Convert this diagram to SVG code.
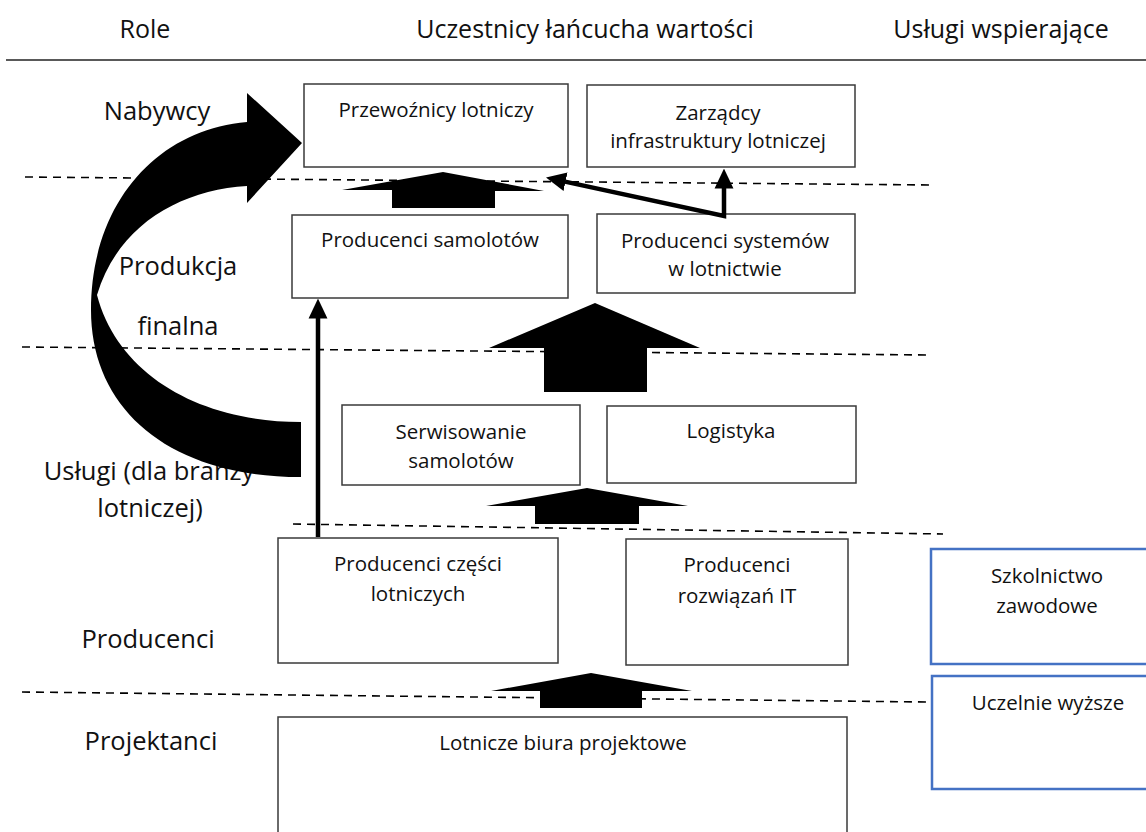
<svg xmlns="http://www.w3.org/2000/svg" width="1146" height="832" viewBox="0 0 1146 832">
<style>
text{font-family:"Open Sans","Noto Sans","DejaVu Sans",sans-serif;fill:#111;text-anchor:middle}
.hdr{font-size:25px}
.lbl{font-size:25.5px}
.bt{font-size:20.5px}
.box{fill:#fff;stroke:#3a3a3a;stroke-width:1.5}
.blue{fill:#fff;stroke:#4472c4;stroke-width:2.5}
.dash{stroke:#000;stroke-width:1.6;stroke-dasharray:8 6;fill:none}
.blk{fill:#000}
.ln{stroke:#000;stroke-width:4.5;fill:none;stroke-linejoin:miter}
</style>
<defs>
<marker id="ah" markerUnits="userSpaceOnUse" markerWidth="20" markerHeight="20" viewBox="0 0 18 17" refX="0.5" refY="8.5" orient="auto-start-reverse">
<path d="M0,0 L18,8.5 L0,17 Z" fill="#000"/>
</marker>
</defs>
<rect width="1146" height="832" fill="#fff"/>
<g id="header">
<text class="hdr" x="145" y="38">Role</text>
<text class="hdr" x="585" y="38">Uczestnicy łańcucha wartości</text>
<text class="hdr" x="1001" y="38">Usługi wspierające</text>
<line x1="6" y1="60" x2="1146" y2="60" stroke="#222" stroke-width="1.6"/>
</g>
<g id="roles">
<text class="lbl" x="157" y="120">Nabywcy</text>
<text class="lbl" x="178" y="275">Produkcja</text>
<text class="lbl" x="178" y="335">finalna</text>
<text class="lbl" x="149" y="480">Usługi (dla branży</text>
<text class="lbl" x="150" y="517">lotniczej)</text>
<text class="lbl" x="148" y="648">Producenci</text>
<text class="lbl" x="151" y="750">Projektanci</text>
</g>
<g id="dividers">
<line class="dash" x1="25" y1="177" x2="930" y2="185"/>
<line class="dash" x1="22" y1="347" x2="930" y2="355"/>
<line class="dash" x1="293" y1="524" x2="943" y2="534"/>
<line class="dash" x1="22" y1="692" x2="927" y2="702"/>
</g>
<g id="n-przewoznicy"><rect class="box" x="304" y="84" width="264" height="83"/><text class="bt" x="436" y="117">Przewoźnicy lotniczy</text></g>
<g id="n-zarzadcy"><rect class="box" x="587" y="85" width="268" height="82"/><text class="bt" x="718" y="120">Zarządcy</text><text class="bt" x="718" y="148">infrastruktury lotniczej</text></g>
<g id="n-prod-samolotow"><rect class="box" x="292" y="215" width="276" height="83"/><text class="bt" x="430" y="247">Producenci samolotów</text></g>
<g id="n-prod-systemow"><rect class="box" x="597" y="214" width="258" height="79"/><text class="bt" x="725" y="248">Producenci systemów</text><text class="bt" x="725" y="276">w lotnictwie</text></g>
<g id="n-serwisowanie"><rect class="box" x="342" y="405" width="238" height="80"/><text class="bt" x="461" y="439">Serwisowanie</text><text class="bt" x="461" y="468">samolotów</text></g>
<g id="n-logistyka"><rect class="box" x="607" y="406" width="249" height="77"/><text class="bt" x="731" y="438">Logistyka</text></g>
<g id="n-czesci"><rect class="box" x="278" y="538" width="280" height="125"/><text class="bt" x="418" y="571">Producenci części</text><text class="bt" x="418" y="601">lotniczych</text></g>
<g id="n-it"><rect class="box" x="626" y="539" width="222" height="126"/><text class="bt" x="737" y="572">Producenci</text><text class="bt" x="737" y="603">rozwiązań IT</text></g>
<g id="n-szkolnictwo"><rect class="blue" x="931" y="549" width="236" height="115"/><text class="bt" x="1047" y="583">Szkolnictwo</text><text class="bt" x="1047" y="613">zawodowe</text></g>
<g id="n-uczelnie"><rect class="blue" x="932" y="676" width="236" height="113"/><text class="bt" x="1048" y="710">Uczelnie wyższe</text></g>
<g id="n-biura"><rect class="box" x="278" y="717" width="569" height="130"/><text class="bt" x="563" y="750">Lotnicze biura projektowe</text></g>
<g id="connectors">
<polygon class="blk" points="443,172 544,191 495,191 495,208 392,208 392,190 342,190"/>
<polygon class="blk" points="595,303 700,348 647,348 647,392 544,392 544,348 489,348"/>
<polygon class="blk" points="587,488 688,506 639,506 639,524 535,524 535,506 486,506"/>
<polygon class="blk" points="591,673 692,691 642,691 642,708 540,708 540,691 491,691"/>
<path class="blk" d="M301,477 C170,477 91,410 91,310 C91,205 155,130 247,122 L247,93 L302,143 L247,203 L247,186 C180,190 118,225 97,295 C118,375 200,422 301,422 Z"/>
<line class="ln" x1="318" y1="537" x2="318" y2="318" marker-end="url(#ah)"/>
<path class="ln" d="M565,181.6 L724,216 L724,188" marker-start="url(#ah)" marker-end="url(#ah)"/>
</g>
</svg>
